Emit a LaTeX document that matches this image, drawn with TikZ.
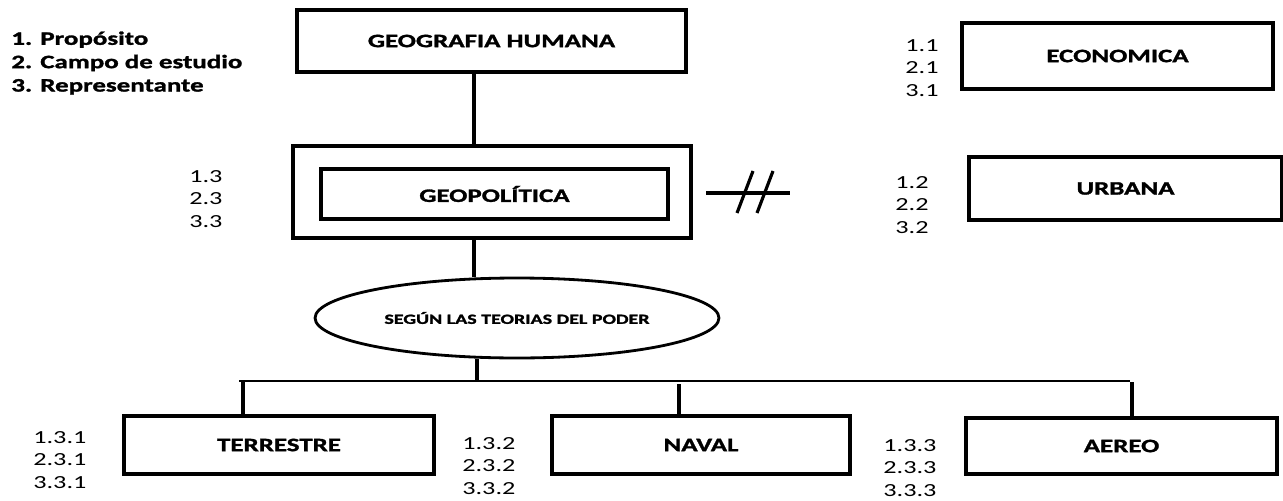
\documentclass[tikz,border=0pt]{standalone}
\usepackage{fontspec}
\setmainfont[FakeStretch=1.42, BoldFeatures={FakeBold=1.5}]{Carlito}
\usetikzlibrary{shapes.geometric}

\begin{document}
\begin{tikzpicture}[x=0.02cm, y=-0.02cm,
  box/.style={draw, line width=2pt, align=center, font=\bfseries\fontsize{10.8}{13}\selectfont},
  oval/.style={draw, ellipse, line width=1.6pt, inner sep=0pt, font=\bfseries\fontsize{8}{9}\selectfont},
  nums/.style={anchor=west, align=left, inner sep=0pt, font=\fontsize{10.5}{13}\selectfont},
  link/.style={line width=1.8pt},
  bus/.style={line width=1.5pt}
]
\useasboundingbox (0,0) rectangle (1283,500);

\node[nums, font=\bfseries\fontsize{10.8}{13.3}\selectfont] (legend) at (11,63) {1. Propósito\\2. Campo de estudio\\3. Representante};

\node[box, minimum width=7.78cm, minimum height=1.24cm] (geo) at (491.5,41) {GEOGRAFIA HUMANA};
\node[box, minimum width=7.96cm, minimum height=1.84cm] (outer) at (492,192) {};
\node[box, minimum width=6.94cm, minimum height=1cm] (geopol) at (494.5,194) {GEOPOLÍTICA};
\node[box, minimum width=6.22cm, minimum height=1.32cm] (eco) at (1117.5,56) {ECONOMICA};
\node[box, minimum width=6.26cm, minimum height=1.26cm] (urb) at (1125.5,188.5) {URBANA};
\node[oval, minimum width=8.08cm, minimum height=1.6cm] (poder) at (517,318) {SEGÚN LAS TEORIAS DEL PODER};
\node[box, minimum width=6.2cm, minimum height=1.16cm] (terr) at (279,445) {TERRESTRE};
\node[box, minimum width=5.96cm, minimum height=1.16cm] (naval) at (701,445) {NAVAL};
\node[box, minimum width=6.22cm, minimum height=1.12cm] (aereo) at (1121.5,446) {AEREO};

\node[nums] (n1) at (905,68) {1.1\\2.1\\3.1};
\node[nums] (n2) at (895,205) {1.2\\2.2\\3.2};
\node[nums] (n3) at (189,199) {1.3\\2.3\\3.3};
\node[nums] (n31) at (33,460) {1.3.1\\2.3.1\\3.3.1};
\node[nums] (n32) at (462,466) {1.3.2\\2.3.2\\3.3.2};
\node[nums] (n33) at (883,468) {1.3.3\\2.3.3\\3.3.3};

\coordinate (trunk) at (474,0);
\draw[link] (geo.south -| trunk) -- (outer.north -| trunk);
\draw[link] (outer.south -| trunk) -- (poder.north -| trunk);

\coordinate (hashL) at (706,193);
\coordinate (hashR) at (790,193);
\draw[link] (hashL) -- (hashR);
\draw[link] ([shift={(31,20)}]hashL) -- ++(16,-42);
\draw[link] ([shift={(51,20)}]hashL) -- ++(16,-42);

\coordinate (busL) at (239,381);
\coordinate (busR) at (1130,381);
\coordinate (stub) at (477,381);
\draw[bus] (busL) -- (busR);
\draw[link] (poder.south -| stub) -- (stub);
\coordinate (d1) at (243,382);
\coordinate (d2) at (679,384);
\coordinate (d3) at (1132,382);
\draw[link] (d1) -- (terr.north -| d1);
\draw[link] (d2) -- (naval.north -| d2);
\draw[link] (d3) -- (aereo.north -| d3);
\end{tikzpicture}
\end{document}
